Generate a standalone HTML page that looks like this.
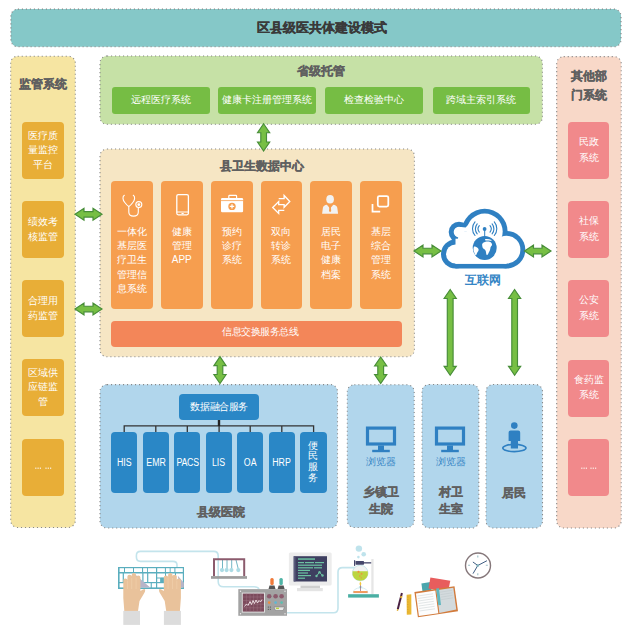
<!DOCTYPE html>
<html><head><meta charset="utf-8">
<style>
*{margin:0;padding:0;box-sizing:border-box}
html,body{width:631px;height:637px;background:#fff;overflow:hidden}
body{position:relative;font-family:"Liberation Sans",sans-serif}
.a{position:absolute}
.pn{position:absolute;border:1px dotted #8c8c8c;border-radius:6px}
.bx{position:absolute;border-radius:4px;color:#fff;text-align:center}
.t{position:absolute;font-weight:bold;color:#606060;text-align:center;white-space:nowrap;-webkit-text-stroke:0.3px currentColor}
.gb{position:absolute;background:#76bd44;border-radius:3px;color:#fff;font-size:10px;text-align:center;top:87px;height:26.5px;line-height:26px;width:97.5px}
.yb{position:absolute;left:22px;width:42px;height:57px;background:#e8ae37;border-radius:4px;color:#fff;font-size:10px;line-height:14.5px;display:flex;align-items:center;justify-content:center;text-align:center}
.pb{position:absolute;left:568px;width:41px;height:57px;background:#f1898b;border-radius:4px;color:#fff;font-size:10px;line-height:15.4px;display:flex;align-items:center;justify-content:center;text-align:center;padding-bottom:2px}
.ob{position:absolute;top:181.1px;width:41.6px;height:127.8px;background:#f69e4f;border-radius:4px;color:#fff;font-size:10px;line-height:14.4px;text-align:center}
.ob div{padding-top:43.5px}
.ob svg{position:absolute;left:0;top:0}
.bb{position:absolute;top:432px;width:26.3px;height:60.5px;background:#2a87c6;border-radius:4px;color:#fff;font-size:10px;display:flex;align-items:center;justify-content:center;text-align:center}
</style></head><body>
<svg class="a" style="left:0;top:0" width="631" height="637" viewBox="0 0 631 637"><rect x="10.9" y="9.1" width="610.1" height="37.7" rx="7" fill="#85c8c8"/><rect x="10.7" y="56.2" width="64.6" height="471.3" rx="7" fill="#f6e5a2"/><rect x="556.7" y="56.6" width="64.5" height="471.4" rx="7" fill="#f8d8c8"/><rect x="100.0" y="56.0" width="442.4" height="68.3" rx="7" fill="#c6e1a6"/><rect x="100.0" y="149.0" width="314.4" height="207.8" rx="7" fill="#f6e6c4"/><rect x="100.0" y="384.6" width="237.5" height="143.4" rx="7" fill="#b1d6ec"/><rect x="347.3" y="384.7" width="66.9" height="142.8" rx="7" fill="#b1d6ec"/><rect x="422.0" y="384.5" width="56.8" height="143.5" rx="7" fill="#b1d6ec"/><rect x="486.0" y="384.5" width="56.5" height="143.5" rx="7" fill="#b1d6ec"/><rect x="10.9" y="9.1" width="610.1" height="37.7" rx="7" fill="none" stroke="#888" stroke-width="1.1" stroke-dasharray="1.1 2.9"/><rect x="10.7" y="56.2" width="64.6" height="471.3" rx="7" fill="none" stroke="#888" stroke-width="1.1" stroke-dasharray="1.1 2.9"/><rect x="556.7" y="56.6" width="64.5" height="471.4" rx="7" fill="none" stroke="#888" stroke-width="1.1" stroke-dasharray="1.1 2.9"/><rect x="100.0" y="56.0" width="442.4" height="68.3" rx="7" fill="none" stroke="#888" stroke-width="1.1" stroke-dasharray="1.1 2.9"/><rect x="100.0" y="149.0" width="314.4" height="207.8" rx="7" fill="none" stroke="#888" stroke-width="1.1" stroke-dasharray="1.1 2.9"/><rect x="100.0" y="384.6" width="237.5" height="143.4" rx="7" fill="none" stroke="#888" stroke-width="1.1" stroke-dasharray="1.1 2.9"/><rect x="347.3" y="384.7" width="66.9" height="142.8" rx="7" fill="none" stroke="#888" stroke-width="1.1" stroke-dasharray="1.1 2.9"/><rect x="422.0" y="384.5" width="56.8" height="143.5" rx="7" fill="none" stroke="#888" stroke-width="1.1" stroke-dasharray="1.1 2.9"/><rect x="486.0" y="384.5" width="56.5" height="143.5" rx="7" fill="none" stroke="#888" stroke-width="1.1" stroke-dasharray="1.1 2.9"/></svg>

<!-- top banner -->
<div class="t" style="left:16.5px;top:19px;width:610px;font-size:13.2px;line-height:18px;color:#3a3a3a">区县级医共体建设模式</div>

<!-- left yellow panel -->
<div class="t" style="left:11px;top:76px;width:64.5px;font-size:12px;line-height:16px">监管系统</div>
<div class="yb" style="top:122px">医疗质<br>量监控<br>平台</div>
<div class="yb" style="top:201px">绩效考<br>核监管</div>
<div class="yb" style="top:280px">合理用<br>药监管</div>
<div class="yb" style="top:359px">区域供<br>应链监<br>管</div>
<div class="yb" style="top:438.5px"></div>

<!-- right pink panel -->
<div class="t" style="left:556.5px;top:67.3px;width:64.5px;font-size:12px;line-height:18.4px">其他部<br>门系统</div>
<div class="pb" style="top:122px">民政<br>系统</div>
<div class="pb" style="top:201px">社保<br>系统</div>
<div class="pb" style="top:280px">公安<br>系统</div>
<div class="pb" style="top:359.5px">食药监<br>系统</div>
<div class="pb" style="top:438.5px"></div>

<!-- green panel -->
<div class="t" style="left:100px;top:62.5px;width:442.5px;font-size:12px;line-height:16px">省级托管</div>
<div class="gb" style="left:112px">远程医疗系统</div>
<div class="gb" style="left:218px">健康卡注册管理系统</div>
<div class="gb" style="left:325.4px">检查检验中心</div>
<div class="gb" style="left:432.7px">跨域主索引系统</div>

<!-- data center -->
<div class="t" style="left:215px;top:158px;width:94px;font-size:12px;line-height:16px">县卫生数据中心</div>
<div class="ob" style="left:111.2px"><svg width="42" height="40" viewBox="111.2 181 42 40" fill="none" stroke="#fff" stroke-width="1.1" stroke-linecap="round"><path d="M124.5 195.3 C122.5 196.5 122.8 200 125 202.5 C126.5 204.5 127.5 205.8 129 206.5 C130.5 205.8 131.5 204.5 133 202.5 C135.2 200 135.5 196.5 133.5 195.3"/><path d="M129 206.5 V212 C129 217.5 138.5 217.5 138.5 212 V208"/><circle cx="139" cy="204.6" r="3"/><circle cx="139" cy="204.6" r="0.9" fill="#fff"/></svg><div>一体化<br>基层医<br>疗卫生<br>管理信<br>息系统</div></div>
<div class="ob" style="left:161px"><svg width="42" height="40" viewBox="161 181 42 40" fill="none" stroke="#fff"><rect x="176.8" y="194.6" width="11.6" height="20.2" rx="1.5" stroke-width="1.3"/><line x1="176.8" y1="212" x2="188.4" y2="212" stroke-width="1"/><line x1="181.5" y1="213.5" x2="183.7" y2="213.5" stroke-width="1"/></svg><div>健康<br>管理<br>APP</div></div>
<div class="ob" style="left:211px"><svg width="42" height="40" viewBox="211 181 42 40"><rect x="228.8" y="195.4" width="7.8" height="3.6" rx="0.8" fill="none" stroke="#fff" stroke-width="1.2"/><rect x="221" y="198" width="22.1" height="14.3" rx="1.2" fill="#fff"/><line x1="221" y1="200.6" x2="243.1" y2="200.6" stroke="#f69e4f" stroke-width="0.8"/><circle cx="232" cy="206.4" r="3.7" fill="#f69e4f"/><path d="M232 204.2V208.6M229.8 206.4H234.2" stroke="#fff" stroke-width="1.3"/></svg><div>预约<br>诊疗<br>系统</div></div>
<div class="ob" style="left:260.6px"><svg width="42" height="40" viewBox="260.6 181 42 40" fill="none" stroke="#fff" stroke-width="1.1" stroke-linejoin="round"><path d="M278.3 198.6 H283.7 V195.5 L289.4 201.5 L283.7 207.3 V204.6 H278.3 V201.5 L272.3 207.5 L278.3 213.5 V210.4 H283.9" stroke-width="1.3" stroke-linejoin="miter"/></svg><div>双向<br>转诊<br>系统</div></div>
<div class="ob" style="left:310.3px"><svg width="42" height="40" viewBox="310.3 181 42 40"><ellipse cx="330.4" cy="199.3" rx="3.8" ry="4.3" fill="#f2f2f2"/><path d="M322.4 213.7 L323.2 207.8 C323.6 205.8 325 205.2 327.2 204.8 L330.4 208.5 L333.6 204.8 C335.8 205.2 337.2 205.8 337.6 207.8 L338.4 213.7 Z" fill="#f2f2f2"/><path d="M329.7 206.2 L331.1 206.2 L331.5 211 L330.4 212.2 L329.3 211 Z" fill="#f69e4f"/></svg><div>居民<br>电子<br>健康<br>档案</div></div>
<div class="ob" style="left:360.4px"><svg width="42" height="40" viewBox="360.4 181 42 40" fill="none" stroke="#fff" stroke-width="1.75"><rect x="378.2" y="196" width="10.5" height="10.5" rx="1.6"/><path d="M372.9 204 V211.5 H380.6"/></svg><div>基层<br>综合<br>管理<br>系统</div></div>
<div class="bx" style="left:111px;top:320.8px;width:290.6px;height:26px;background:#f38659;font-size:10px;letter-spacing:-0.45px;line-height:22.5px;text-align:left;padding-left:111.2px;border-radius:4px">信息交换服务总线</div>

<!-- county hospital -->
<div class="bx" style="left:179.4px;top:394px;width:79.6px;height:26.2px;background:#2a87c6;font-size:10px;letter-spacing:-0.4px;line-height:26px">数据融合服务</div>
<svg class="a" style="left:0;top:0" width="340" height="440" viewBox="0 0 340 440"><path d="M124.2 432.2V425.9H313.6V432.2M155.8 425.9V432.2M187.3 425.9V432.2M250.2 425.9V432.2M281.8 425.9V432.2M219.1 425.9V432.2" fill="none" stroke="#333" stroke-width="1.3"/><path d="M219 420V426" stroke="#222" stroke-width="2.4"/></svg>
<div class="bb" style="left:111px"><span style="display:inline-block;transform:scaleX(0.88)">HIS</span></div>
<div class="bb" style="left:142.6px"><span style="display:inline-block;transform:scaleX(0.88)">EMR</span></div>
<div class="bb" style="left:174.1px"><span style="display:inline-block;transform:scaleX(0.88);letter-spacing:-0.3px">PACS</span></div>
<div class="bb" style="left:205.8px"><span style="display:inline-block;transform:scaleX(0.88)">LIS</span></div>
<div class="bb" style="left:237.1px"><span style="display:inline-block;transform:scaleX(0.88)">OA</span></div>
<div class="bb" style="left:268.7px"><span style="display:inline-block;transform:scaleX(0.88)">HRP</span></div>
<div class="bb" style="left:300.3px;line-height:10.8px">便<br>民<br>服<br>务</div>
<div class="t" style="left:100px;top:503.5px;width:241px;font-size:12px;line-height:16px">县级医院</div>

<!-- town -->
<svg class="a" style="left:347px;top:420px" width="67" height="36" viewBox="347 420 67 36"><rect x="367.5" y="428.1" width="27" height="15.9" fill="none" stroke="#2f80c2" stroke-width="3.2"/><rect x="378" y="445.5" width="6" height="5" fill="#2f80c2"/><rect x="372.2" y="449.8" width="17.6" height="2.4" fill="#2f80c2"/></svg>
<div class="a" style="left:347.2px;top:455px;width:67px;text-align:center;font-size:9.5px;line-height:13px;color:#3a87c6">浏览器</div>
<div class="t" style="left:347.2px;top:484.3px;width:67px;font-size:12px;line-height:16.3px">乡镇卫<br>生院</div>
<!-- village -->
<svg class="a" style="left:422px;top:420px" width="57" height="36" viewBox="422 420 57 36"><rect x="436.5" y="428.1" width="27" height="15.9" fill="none" stroke="#2f80c2" stroke-width="3.2"/><rect x="447" y="445.5" width="6" height="5" fill="#2f80c2"/><rect x="441.2" y="449.8" width="17.6" height="2.4" fill="#2f80c2"/></svg>
<div class="a" style="left:422px;top:455px;width:57px;text-align:center;font-size:9.5px;line-height:13px;color:#3a87c6">浏览器</div>
<div class="t" style="left:422px;top:484.3px;width:57px;font-size:12px;line-height:16.3px">村卫<br>生室</div>
<!-- resident -->
<svg class="a" style="left:486px;top:415px" width="57" height="45" viewBox="486 415 57 45"><ellipse cx="514.4" cy="448" rx="11.6" ry="3.6" fill="none" stroke="#2f80c2" stroke-width="1.6"/><circle cx="514.3" cy="425.6" r="3.3" fill="#2f80c2"/><path d="M508.6 432.5 Q508.6 430.6 510.6 430.6 H518.2 Q520.2 430.6 520.2 432.5 V441 H518 V448.6 H510.8 V441 H508.6 Z" fill="#2f80c2"/></svg>
<div class="t" style="left:486px;top:484.5px;width:56.5px;font-size:12px;line-height:16px">居民</div>

<!-- cloud -->
<svg class="a" style="left:436px;top:203px" width="95" height="70" viewBox="436 203 95 70">
<g transform="translate(441 208.7)">
<g fill="#2f80c2"><circle cx="43.7" cy="22.9" r="22.9"/><circle cx="18" cy="23.4" r="10.3"/><circle cx="14.5" cy="45.3" r="14.5"/><circle cx="65.5" cy="41" r="18.8"/><rect x="14.5" y="30" width="51" height="29.8"/></g>
<g fill="#fff"><circle cx="43.7" cy="22.9" r="18"/><circle cx="18" cy="23.4" r="5.3"/><circle cx="14.5" cy="45.3" r="9.5"/><circle cx="65.5" cy="41" r="13.9"/><rect x="14.5" y="30" width="51" height="25"/><polygon points="18,23.4 43.7,22.9 65.5,41 65.5,55 14.5,55 14.5,45.3"/><path d="M16 18.6 Q21 18.2 24.6 18.7 Q27 16 30.5 13.8 L43.7 22.9 L18 23.4 Z"/></g>
<circle cx="43.7" cy="39.3" r="12" fill="#2f80c2"/>
<g fill="#fff"><path d="M41.5 34.8 C43 33.2 46 32.6 48.5 33 C50.5 33.6 51.3 35.2 51 36.6 C50 37.5 49.5 38.5 49.3 40 C49 42 47.8 43.5 47 45.5 C46.5 46.3 45.5 46.5 45.3 45.5 C45 43.5 45 42 43.8 40.8 C42.5 40 41.5 39.3 41.3 37.5 C41.1 36.2 41 35.5 41.5 34.8 Z"/><path d="M44 30.4 C46 29.9 48.5 30.3 50.5 31.3 C51 31.8 50.3 32.3 49.5 32.1 C47.6 31.6 46 31.6 44.4 31.8 Z"/><path d="M33 37.8 C34.5 37.8 36 38.3 37 39.5 C38.2 41 37.5 42.2 36.6 43.2 C35.8 44.6 35.5 46 34.8 46.8 C33.8 45.4 33 43.5 32.5 41.5 C32.3 40 32.5 38.8 33 37.8 Z"/></g>
<path d="M43.7 27.3 L42.2 29.8 H45.2 Z" fill="#2f80c2"/><line x1="43.7" y1="28" x2="43.7" y2="21" stroke="#2f80c2" stroke-width="1"/>
<circle cx="43.6" cy="20.3" r="1.9" fill="#2f80c2"/>
<g fill="none" stroke="#2f80c2" stroke-width="1.1" stroke-linecap="round"><path d="M38.3 17 A5 5 0 0 0 38.3 23.4"/><path d="M36.2 15.2 A7.8 7.8 0 0 0 36.2 25.2"/><path d="M34 13.2 A10.5 10.5 0 0 0 34 26.8"/><path d="M49 17 A5 5 0 0 1 49 23.4"/><path d="M51.1 15.2 A7.8 7.8 0 0 1 51.1 25.2"/><path d="M53.3 13.2 A10.5 10.5 0 0 1 53.3 26.8"/></g>
</g></svg>
<div class="a" style="left:441px;top:272px;width:84px;text-align:center;font-size:12px;line-height:16px;font-weight:bold;color:#3585c5">互联网</div>

<svg class="a" style="left:0;top:0" width="631" height="637" viewBox="0 0 631 637" fill="#fdf6ee"><rect x="35.2" y="467.6" width="1.2" height="1.2"/><rect x="37.5" y="467.6" width="1.2" height="1.2"/><rect x="39.8" y="467.6" width="1.2" height="1.2"/><rect x="45.4" y="467.6" width="1.2" height="1.2"/><rect x="47.7" y="467.6" width="1.2" height="1.2"/><rect x="50.0" y="467.6" width="1.2" height="1.2"/><rect x="581.2" y="467.6" width="1.2" height="1.2"/><rect x="583.5" y="467.6" width="1.2" height="1.2"/><rect x="585.8" y="467.6" width="1.2" height="1.2"/><rect x="590.4" y="467.6" width="1.2" height="1.2"/><rect x="592.7" y="467.6" width="1.2" height="1.2"/><rect x="595.0" y="467.6" width="1.2" height="1.2"/></svg>
<svg class="a" style="left:0;top:0" width="631" height="637" viewBox="0 0 631 637"><polygon points="75.0,214.3 84.0,208.3 84.0,211.6 93.0,211.6 93.0,208.3 102.0,214.3 93.0,220.3 93.0,217.1 84.0,217.1 84.0,220.3" fill="#77bf44" stroke="#478d38" stroke-width="1.15" stroke-linejoin="miter"/><polygon points="75.0,309.0 84.0,303.0 84.0,306.2 93.0,306.2 93.0,303.0 102.0,309.0 93.0,315.0 93.0,311.8 84.0,311.8 84.0,315.0" fill="#77bf44" stroke="#478d38" stroke-width="1.15" stroke-linejoin="miter"/><polygon points="414.0,251.0 423.0,245.0 423.0,248.2 432.0,248.2 432.0,245.0 441.0,251.0 432.0,257.0 432.0,253.8 423.0,253.8 423.0,257.0" fill="#77bf44" stroke="#478d38" stroke-width="1.15" stroke-linejoin="miter"/><polygon points="524.5,251.0 533.5,245.0 533.5,248.2 542.0,248.2 542.0,245.0 551.0,251.0 542.0,257.0 542.0,253.8 533.5,253.8 533.5,257.0" fill="#77bf44" stroke="#478d38" stroke-width="1.15" stroke-linejoin="miter"/><polygon points="263.6,123.7 269.7,132.7 266.5,132.7 266.5,142.0 269.7,142.0 263.6,151.0 257.5,142.0 260.8,142.0 260.8,132.7 257.5,132.7" fill="#77bf44" stroke="#478d38" stroke-width="1.15"/><polygon points="220.0,356.6 226.1,365.6 222.8,365.6 222.8,374.5 226.1,374.5 220.0,383.5 213.9,374.5 217.2,374.5 217.2,365.6 213.9,365.6" fill="#77bf44" stroke="#478d38" stroke-width="1.15"/><polygon points="380.7,357.0 386.8,366.0 383.6,366.0 383.6,374.6 386.8,374.6 380.7,383.6 374.6,374.6 377.8,374.6 377.8,366.0 374.6,366.0" fill="#77bf44" stroke="#478d38" stroke-width="1.15"/><polygon points="450.2,289.5 456.3,298.5 453.1,298.5 453.1,366.3 456.3,366.3 450.2,375.3 444.1,366.3 447.3,366.3 447.3,298.5 444.1,298.5" fill="#77bf44" stroke="#478d38" stroke-width="1.15"/><polygon points="514.6,289.5 520.7,298.5 517.5,298.5 517.5,366.3 520.7,366.3 514.6,375.3 508.5,366.3 511.8,366.3 511.8,298.5 508.5,298.5" fill="#77bf44" stroke="#478d38" stroke-width="1.15"/></svg>
<svg class="a" style="left:0;top:530px" width="631" height="107" viewBox="0 530 631 107">
<!-- cables -->
<g fill="none" stroke="#c3e4ec" stroke-width="1.6">
<path d="M177 567 V565 Q177 561.4 173 561.4 H140.5 Q136.4 561.4 136.4 557 V555.5 Q136.4 551.4 140.5 551.4 H213.8 Q218.2 551.4 218.2 556 V581.5 Q218.2 586.8 223.5 586.8 H254 Q258 586.8 259 589"/>
<path d="M287 612.8 H333.5 Q338 612.8 338 608 V572 Q338 567.6 342.5 567.6 H355"/>
</g>
<!-- keyboard -->
<rect x="118" y="567" width="66" height="22" fill="#5aaebe"/>
<g fill="#fff">
<rect x="119.6" y="568.2" width="4.4" height="3.8"/><rect x="125" y="568.2" width="8" height="3.8"/><rect x="134" y="568.2" width="8" height="3.8"/><rect x="143.1" y="568.2" width="4" height="3.8"/><rect x="148" y="568.2" width="8" height="3.8"/><rect x="157.2" y="568.2" width="7.7" height="3.8"/><rect x="165.9" y="568.2" width="3.8" height="3.8"/><rect x="170.6" y="568.2" width="3.8" height="3.8"/><rect x="175.4" y="568.2" width="7.4" height="3.8"/>
<rect x="119.6" y="573.5" width="3.1" height="8.5"/><rect x="123.9" y="573.5" width="18.4" height="8.5"/><rect x="143.5" y="573.5" width="3.6" height="8.5"/><rect x="148.3" y="573.5" width="7.7" height="8.5"/><rect x="157.2" y="573.5" width="7.8" height="4"/><rect x="157.2" y="578.5" width="3" height="3.5"/><rect x="164.5" y="578.5" width="0.5" height="3.5"/><rect x="166" y="573.5" width="4" height="8.5"/><rect x="171" y="573.5" width="4" height="8.5"/><rect x="176" y="573.5" width="6.8" height="8.5"/>
<rect x="119.6" y="583.2" width="5.4" height="4.2"/><rect x="126" y="583.2" width="24.7" height="4.2"/><rect x="151.8" y="583.2" width="4.2" height="4.2"/><rect x="157.2" y="583.2" width="8.8" height="4.2"/><rect x="167" y="583.2" width="7" height="4.2"/><rect x="175" y="583.2" width="7.8" height="4.2"/>
</g>
<rect x="160.6" y="577.8" width="3.6" height="5" fill="#5aaebe"/>
<path d="M135.4 574.8 L150.2 587.4 H138.8 Z" fill="#b7b4c8"/>
<path d="M177.8 575.7 L183.9 582.8 V587.4 H179.9 Z" fill="#b7b4c8"/>
<!-- hands -->
<g id="hand" fill="#e9c29b">
<path d="M123.3 580 Q123.3 578.5 125.35 578.5 Q127.4 578.5 127.4 580 L127.4 576.5 Q127.4 574.7 129.55 574.7 Q131.7 574.7 131.7 576.5 L131.7 575 Q131.7 573.1 133.9 573.1 Q136.1 573.1 136.1 575 L136.1 577.3 Q136.1 575.4 138.25 575.4 Q140.4 575.4 140.4 577.3 L140.4 591 L143 589.5 Q145 588.5 145.2 590 Q145.3 591.5 144 593.5 L139.5 601 L138 610.9 H124.3 L123.3 598 Z"/>
</g>
<g stroke="#f3d6b6" stroke-width="0.45"><path d="M127.4 580.5V589M131.7 578V589M136.1 577.5V589"/></g>
<g transform="translate(304.2 0) scale(-1 1)">
<path fill="#e9c29b" d="M123.3 580 Q123.3 578.5 125.35 578.5 Q127.4 578.5 127.4 580 L127.4 576.5 Q127.4 574.7 129.55 574.7 Q131.7 574.7 131.7 576.5 L131.7 575 Q131.7 573.1 133.9 573.1 Q136.1 573.1 136.1 575 L136.1 577.3 Q136.1 575.4 138.25 575.4 Q140.4 575.4 140.4 577.3 L140.4 591 L143 589.5 Q145 588.5 145.2 590 Q145.3 591.5 144 593.5 L139.5 601 L138 610.9 H124.3 L123.3 598 Z"/>
<g stroke="#f3d6b6" stroke-width="0.45"><path d="M127.4 580.5V589M131.7 578V589M136.1 577.5V589"/></g>
</g>
<rect x="123.3" y="610.9" width="16.7" height="14" fill="#dcdcdc"/>
<rect x="163.9" y="610.9" width="17" height="14" fill="#dcdcdc"/>
<!-- newton cradle -->
<line x1="222.5" y1="560" x2="222.5" y2="569" stroke="#4fa3b5" stroke-width="0.8"/><line x1="227" y1="560" x2="227" y2="569" stroke="#4fa3b5" stroke-width="0.8"/><line x1="231.7" y1="560" x2="231.7" y2="569" stroke="#4fa3b5" stroke-width="0.8"/><line x1="236" y1="560" x2="238.3" y2="569" stroke="#4fa3b5" stroke-width="0.8"/>
<g fill="#acdbe4"><circle cx="222" cy="570.1" r="2.1"/><circle cx="226.6" cy="570.1" r="2.1"/><circle cx="231.4" cy="570.1" r="2.1"/><circle cx="238.3" cy="570.1" r="2.1"/></g>
<path d="M214 576.1 V559.2 H244.2 V576.1" fill="none" stroke="#8c5b6d" stroke-width="2"/>
<rect x="211" y="576.1" width="36" height="2.7" fill="#9d9d9d"/>
<!-- oscilloscope -->
<rect x="270.3" y="578" width="3.4" height="7" rx="1.5" fill="#ef7a3a"/><rect x="279.4" y="578" width="3.4" height="7" rx="1.5" fill="#4fb4a6"/>
<path d="M269.5 585.5 H274.5 L275.5 589 H268.5 Z" fill="#555"/><path d="M278.6 585.5 H283.6 L284.6 589 H277.6 Z" fill="#555"/>
<rect x="238.3" y="589.1" width="48.7" height="26.7" fill="#a3a3a3"/>
<rect x="241.8" y="592.6" width="23.2" height="20" fill="#dedede"/>
<rect x="242.8" y="593.6" width="21.2" height="18" fill="#7c4a5c"/>
<g stroke="#a27b89" stroke-width="0.4"><path d="M242.8 597H264M242.8 600.6H264M242.8 604.2H264M242.8 607.8H264M246.4 593.6V611.6M250 593.6V611.6M253.6 593.6V611.6M257.2 593.6V611.6M260.8 593.6V611.6"/></g>
<path d="M244.5 606.5 L246.5 604 L248 605.5 L250 601.5 L251.5 604.5 L253 600.5 L254.5 603.5 L256 600 L257.5 603 L259 600.5 L260.5 602 L262 599.5" fill="none" stroke="#f2e6ea" stroke-width="0.9"/>
<g fill="#8c5b6d"><circle cx="269.2" cy="596.3" r="2.3"/><circle cx="275.6" cy="596.3" r="2.3"/><circle cx="281.6" cy="596.3" r="2.3"/></g>
<circle cx="269.2" cy="602.6" r="1.3" fill="#f08a3c"/><circle cx="275.6" cy="602.6" r="1.3" fill="#5bb8d6"/><circle cx="281.6" cy="602.6" r="1.3" fill="#5bc0b0"/>
<g fill="#666"><rect x="267.8" y="606.5" width="1.2" height="1.2"/><rect x="269.8" y="606.5" width="1.2" height="1.2"/><rect x="267.8" y="608.8" width="1.2" height="1.2"/><rect x="269.8" y="608.8" width="1.2" height="1.2"/></g>
<path d="M274 607 H284.5 L283 610.5 H275.5 Z" fill="#e8e8e8" stroke="#777" stroke-width="0.5"/><rect x="276" y="607.6" width="3" height="1.5" fill="#b8d23e"/>
<g fill="#eee"><circle cx="240.5" cy="591.2" r="0.7"/><circle cx="285" cy="591.2" r="0.7"/><circle cx="240.5" cy="613.7" r="0.7"/><circle cx="285" cy="613.7" r="0.7"/></g>
<!-- monitor -->
<rect x="288.9" y="552.4" width="42.8" height="33.2" rx="1.5" fill="#ececec"/>
<rect x="293.7" y="556.2" width="33.3" height="25.3" fill="#3e3f60"/>
<rect x="293.7" y="556.2" width="1.8" height="25.3" fill="#5a5c7c"/>
<g fill="#6cc2a2"><rect x="298" y="558.3" width="17" height="1.5"/><rect x="298" y="562" width="6" height="1.2"/><rect x="305" y="562" width="9" height="1.2"/><rect x="315" y="562" width="9" height="1.2"/><rect x="298" y="564.6" width="24" height="1.2"/><rect x="298" y="567.2" width="15" height="1.2"/><rect x="314" y="567.2" width="8" height="1.2"/><rect x="298" y="569.8" width="12" height="1.2"/><rect x="298" y="572.4" width="10" height="1.2"/><rect x="298" y="575" width="13" height="1.2"/><rect x="298" y="577.6" width="7" height="1.2"/></g>
<path d="M316.5 576 L319.5 572.3 L322.5 575.5" fill="none" stroke="#6cc2a2" stroke-width="1"/><g fill="#6cc2a2"><circle cx="316.5" cy="576" r="1.2"/><circle cx="319.5" cy="572.3" r="1.2"/><circle cx="322.5" cy="575.5" r="1.2"/></g>
<rect x="300.5" y="585.6" width="19.5" height="2.4" fill="#cfcfcf"/>
<rect x="297" y="588" width="25.8" height="3.2" fill="#e4e4e4"/>
<!-- flask stand -->
<rect x="371.3" y="559" width="2.3" height="35.2" fill="#e6e6e6"/>
<rect x="348.1" y="594.2" width="30.8" height="3.4" fill="#4aafa3"/>
<path d="M353.2 592.8 Q353.6 588 360.5 587.8 Q367.4 588 367.8 592.8 Z" fill="#fff" stroke="#c4e4ea" stroke-width="0.7"/>
<rect x="353.4" y="591.2" width="14.2" height="1.6" fill="#f0873c"/>
<rect x="358.9" y="586.2" width="3.3" height="1.8" fill="#c4e4ea"/>
<line x1="360.5" y1="585" x2="360.5" y2="591" stroke="#7c4a5c" stroke-width="0.6"/>
<path d="M360.4 581.6 Q358.6 584 360.4 585.8 Q362.2 584 360.4 581.6 Z" fill="#f5c83a"/>
<circle cx="360.2" cy="573" r="7.8" fill="#f2f2f2" stroke="#c4e4ea" stroke-width="0.9"/>
<path d="M352.6 571.3 H367.8 A7.8 7.8 0 1 1 352.6 571.3 Z" fill="#bcd53f"/>
<g fill="#f0903e"><circle cx="358.5" cy="571.8" r="1.1"/><circle cx="361.6" cy="573.8" r="0.9"/><circle cx="359.8" cy="576" r="0.8"/><circle cx="361.3" cy="577.8" r="0.6"/></g>
<rect x="355.5" y="560.9" width="8.5" height="3.8" rx="0.6" fill="#45466b"/>
<rect x="364" y="562.2" width="7.2" height="1.3" fill="#45466b"/>
<rect x="354" y="560.2" width="1.2" height="5.7" fill="#45466b"/>
<g fill="#bfe3ec"><circle cx="358.9" cy="548.6" r="3.2"/><circle cx="363.7" cy="554.3" r="2.3"/><circle cx="358.4" cy="557.1" r="1.3"/></g>
<!-- pen + ruler -->
<line x1="401.9" y1="593" x2="397.8" y2="609.2" stroke="#4a2143" stroke-width="2"/>
<line x1="397.8" y1="609.2" x2="397.4" y2="610.8" stroke="#e2b23a" stroke-width="1.4"/>
<line x1="401.5" y1="596" x2="401" y2="598" stroke="#e2b23a" stroke-width="2"/>
<path d="M406.6 594.8 L411.3 594.3 L411.4 614.5 L406.8 614.8 Z" fill="#eab834"/>
<g stroke="#c99320" stroke-width="0.4"><path d="M407 597h1.5M407 599.5h1.5M407 602h1.5M407 604.5h1.5M407 607h1.5M407 609.5h1.5M407 612h1.5"/></g>
<!-- notebook -->
<path d="M421.4 583.5 L430.5 582 L431.5 590 L422.5 591.5 Z" fill="#4ba6ad"/>
<path d="M430.4 577.4 L450.3 580.8 L448 592 L428.5 588.5 Z" fill="#e85d5d"/>
<path d="M414.4 592.1 L454.5 586.3 L458 611.2 L417.9 617.3 Z" fill="#d27b3c"/>
<path d="M415.9 593.4 L435.3 590.4 L438.3 613.2 L418.9 615.9 Z" fill="#fdfdfd"/>
<path d="M436.4 590.3 L453.3 587.7 L456.3 609.4 L439.4 612.9 Z" fill="#d3dadd"/>
<g stroke="#b8c2c4" stroke-width="0.4"><path d="M417.5 596 L433 593.8M417.8 598.5 L433.3 596.3M418.2 601 L433.6 598.8M418.5 603.5 L433.9 601.3M418.8 606 L434.3 603.8M419.1 608.5 L434.6 606.3M419.4 611 L435 608.8"/><path d="M440 592.2 L452 590.3M440.3 594.7 L452.3 592.8M440.6 597.2 L452.6 595.3M441 599.7 L453 597.8"/></g>
<path d="M436.2 588.6 L439 588.2 L441 604.9 L438.2 605.3 Z" fill="#5fb6bf"/>
<!-- clock -->
<circle cx="478" cy="565.5" r="12.5" fill="#fff" stroke="#85777a" stroke-width="1.4"/>
<g stroke="#9bbfc6" stroke-width="1.1"><path d="M477.8 555.6v2M477.8 573.3v2M468.1 565.3h2M485.8 565.3h2"/></g>
<g stroke="#3f5d82" stroke-width="1" stroke-linecap="round"><path d="M477.8 565.5 L486.6 560.9M477.8 565.5 L473.2 562.2M477.8 565.5 L473.2 573.3"/></g><circle cx="477.8" cy="565.5" r="1.3" fill="#7fb1bb"/>
</svg>

</body></html>
